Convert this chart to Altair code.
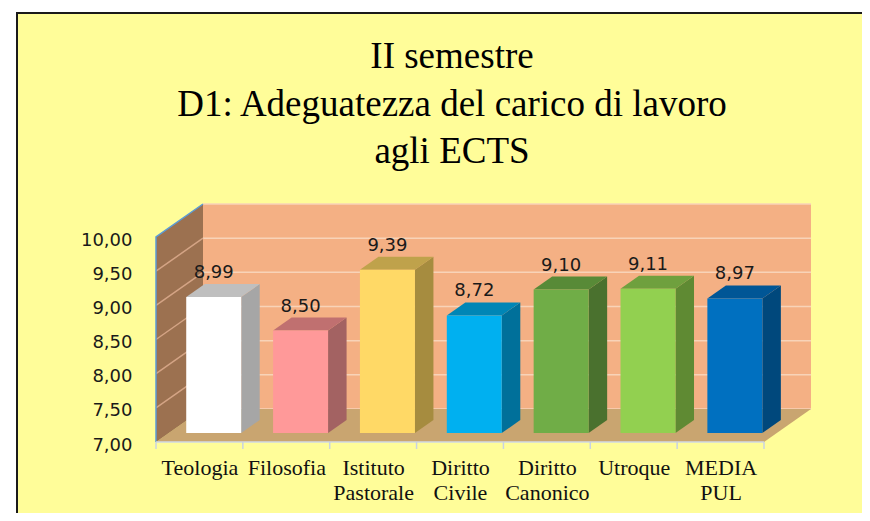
import json
import altair as alt
import pandas as pd

# ---------------- data ----------------
categories = ["Teologia", "Filosofia", "Istituto Pastorale", "Diritto Civile",
              "Diritto Canonico", "Utroque", "MEDIA PUL"]
values = [8.99, 8.50, 9.39, 8.72, 9.10, 9.11, 8.97]
y_ticks = [7.0, 7.5, 8.0, 8.5, 9.0, 9.5, 10.0]
title_lines = ["II semestre", "D1: Adeguatezza del carico di lavoro", "agli ECTS"]

front_colors = ["#FFFFFF", "#FF9999", "#FFD966", "#00B0F0", "#70AD47", "#92D050", "#0070C0"]
side_colors = ["#A6A6A6", "#A36262", "#A68C3F", "#00709A", "#4A712E", "#5F8A33", "#00487C"]
top_colors = ["#BFBFBF", "#C07070", "#BFA24B", "#0086B6", "#588A37", "#6FA03E", "#005696"]

# ---------------- geometry (styling) ----------------
W, H = 608, 205
Y0, Y1 = 7.0, 10.0
N = len(categories)
PX_U = W / N
PX_V = H / (Y1 - Y0)


def su(px):
    return px / PX_U


def sv(px):
    return px / PX_V


DX, DY = 47, 33          # full depth of the 3D box, px
BAR_L, BAR_R = 0.348, 0.981
BF, BB = 9, 22           # bar front / back depth (vertical px)
BDX = (BB - BF) * DX / DY

xs = alt.Scale(domain=[0, N], nice=False, zero=False)
ys = alt.Scale(domain=[Y0, Y1], nice=False, zero=False)

cats_js = json.dumps(categories)
X_AX = alt.Axis(values=[i + 0.5 for i in range(N)],
                labelExpr=f"split({cats_js}[floor(datum.value)], ' ')",
                domain=False, ticks=False, tickSize=0, grid=False,
                labelFont="Liberation Serif", labelFontSize=22, labelColor="#111111",
                labelPadding=15, labelLineHeight=25, labelFlush=False,
                labelOverlap=False, labelBound=False, title=None, zindex=2)
Y_AX = alt.Axis(values=y_ticks,
                labelExpr="replace(format(datum.value, '.2f'), '.', ',')",
                domain=False, ticks=False, tickSize=0, grid=False,
                labelFont="DejaVu Sans", labelFontSize=18, labelColor="#1a1a1a",
                labelPadding=24, labelOffset=3, labelOverlap=False,
                labelFlush=False, labelBound=False, title=None, zindex=2)


def X(f):
    return alt.X(f, scale=xs, axis=X_AX, title=None)


def Y(f):
    return alt.Y(f, scale=ys, axis=Y_AX, title=None)


# ---------------- tables ----------------
front = pd.DataFrame({
    "cat": categories,
    "x": [i + BAR_L for i in range(N)],
    "x2": [i + BAR_R for i in range(N)],
    "y": [Y0 + sv(BF)] * N,
    "y2": [v + sv(BF) for v in values],
    "lx": [i + (BAR_L + BAR_R) / 2 for i in range(N)],
    "label": [f"{v:.2f}".replace(".", ",") for v in values],
})

side_rows, top_rows = [], []
for i, (c, v) in enumerate(zip(categories, values)):
    side_rows.append({"cat": c, "x": i + BAR_R, "y": v + sv(BF), "y2": Y0 + sv(BF)})
    side_rows.append({"cat": c, "x": i + BAR_R + su(BDX), "y": v + sv(BB), "y2": Y0 + sv(BB)})
    top_rows.append({"cat": c, "x": i + BAR_L, "y": v + sv(BF), "y2": v + sv(BF)})
    top_rows.append({"cat": c, "x": i + BAR_L + su(BDX), "y": v + sv(BB), "y2": v + sv(BF)})
    top_rows.append({"cat": c, "x": i + BAR_R, "y": v + sv(BB), "y2": v + sv(BF)})
    top_rows.append({"cat": c, "x": i + BAR_R + su(BDX), "y": v + sv(BB), "y2": v + sv(BB)})
side = pd.DataFrame(side_rows)
top = pd.DataFrame(top_rows)

back = pd.DataFrame({"x": [su(DX)], "x2": [N + su(DX)], "y": [Y0 + sv(DY)], "y2": [Y1 + sv(DY)]})
back_grid = pd.DataFrame({"x": [su(DX)] * len(y_ticks), "x2": [N + su(DX)] * len(y_ticks),
                          "y": [t + sv(DY) for t in y_ticks]})
left_wall = pd.DataFrame({"x": [0, su(DX)], "y": [Y0, Y0 + sv(DY)], "y2": [Y1, Y1 + sv(DY)]})
lg_rows = []
for t in y_ticks[1:-1]:
    lg_rows.append({"t": t, "x": 0, "y": t})
    lg_rows.append({"t": t, "x": su(DX), "y": t + sv(DY)})
left_grid = pd.DataFrame(lg_rows)
left_edge = pd.DataFrame({"x": [0, 0, su(DX)], "y": [Y0, Y1, Y1 + sv(DY)], "o": [0, 1, 2]})
floor = pd.DataFrame({"x": [0, su(DX), N, N + su(DX)],
                      "y": [Y0, Y0 + sv(DY), Y0 + sv(DY), Y0 + sv(DY)],
                      "y2": [Y0, Y0, Y0, Y0 + sv(DY)]})
ticks_df = pd.DataFrame({"x": list(range(N + 1))})
baseline_df = pd.DataFrame({"x": [0], "x2": [N], "y": [Y0]})
frame_df = pd.DataFrame({"a": [0]})
title_df = pd.DataFrame({"t": ["\n".join(title_lines)]})

# ---------------- layers ----------------
frame = alt.Chart(frame_df).mark_rect(fill="#FFFD99", stroke="#1a1a1a", strokeWidth=2).encode(
    x=alt.value(-139), x2=alt.value(W + 140), y=alt.value(-224), y2=alt.value(H + 140))

title_l = alt.Chart(title_df).mark_text(
    font="Liberation Serif", fontSize=37, color="#000000", align="center",
    baseline="alphabetic", lineBreak="\n", lineHeight=47.5).encode(
    x=alt.value(452 - 156), y=alt.value(68 - 237), text="t:N")

back_l = alt.Chart(back).mark_rect(color="#F4B084").encode(
    x=X("x:Q"), x2="x2", y=Y("y:Q"), y2="y2")
back_g = alt.Chart(back_grid).mark_rule(color="#F8D3B8", strokeWidth=1.5).encode(
    x=X("x:Q"), x2="x2", y=Y("y:Q"))
floor_l = alt.Chart(floor).mark_area(color="#C9A570", interpolate="linear").encode(
    x=X("x:Q"), y=Y("y:Q"), y2="y2")
lwall = alt.Chart(left_wall).mark_area(color="#9C7150", interpolate="linear").encode(
    x=X("x:Q"), y=Y("y:Q"), y2="y2")
lgrid = alt.Chart(left_grid).mark_line(color="#D4A485", strokeWidth=1.5).encode(
    x=X("x:Q"), y=Y("y:Q"), detail="t:N")
ledge = alt.Chart(left_edge).mark_line(color="#5B9BD5", strokeWidth=1.5).encode(
    x=X("x:Q"), y=Y("y:Q"), order="o:Q")
base_line = alt.Chart(baseline_df).mark_rule(color="#D0D8E4", strokeWidth=1.5).encode(
    x=X("x:Q"), x2="x2", y=Y("y:Q"))
tick_l = alt.Chart(ticks_df).mark_rule(color="#C8D2E2", strokeWidth=1.5).encode(
    x=X("x:Q"), y=alt.value(H), y2=alt.value(H + 7))

side_l = alt.Chart(side).mark_area(interpolate="linear").encode(
    x=X("x:Q"), y=Y("y:Q"), y2="y2",
    color=alt.Color("cat:N", scale=alt.Scale(domain=categories, range=side_colors), legend=None),
    detail="cat:N")
top_l = alt.Chart(top).mark_area(interpolate="linear").encode(
    x=X("x:Q"), y=Y("y:Q"), y2="y2",
    color=alt.Color("cat:N", scale=alt.Scale(domain=categories, range=top_colors), legend=None),
    detail="cat:N")
front_l = alt.Chart(front).mark_rect().encode(
    x=X("x:Q"), x2="x2", y=Y("y:Q"), y2="y2",
    color=alt.Color("cat:N", scale=alt.Scale(domain=categories, range=front_colors), legend=None),
)
labels_l = alt.Chart(front).mark_text(font="DejaVu Sans", fontSize=18, color="#1a1a1a",
                                      baseline="alphabetic", dy=-19).encode(
    x=X("lx:Q"), y=Y("y2:Q"), text="label:N")

chart = alt.layer(
    frame, title_l, back_l, back_g, floor_l, lwall, lgrid, ledge, base_line, tick_l,
    side_l, top_l, front_l, labels_l
).resolve_scale(color="independent").properties(
    width=W, height=H,
    autosize=alt.AutoSizeParams(type="none"),
    padding={"left": 148, "top": 229, "right": 98, "bottom": 71},
).configure(background="white").configure_view(stroke=None)

chart.save("out.html", embed_options={"renderer": "svg", "actions": False})
